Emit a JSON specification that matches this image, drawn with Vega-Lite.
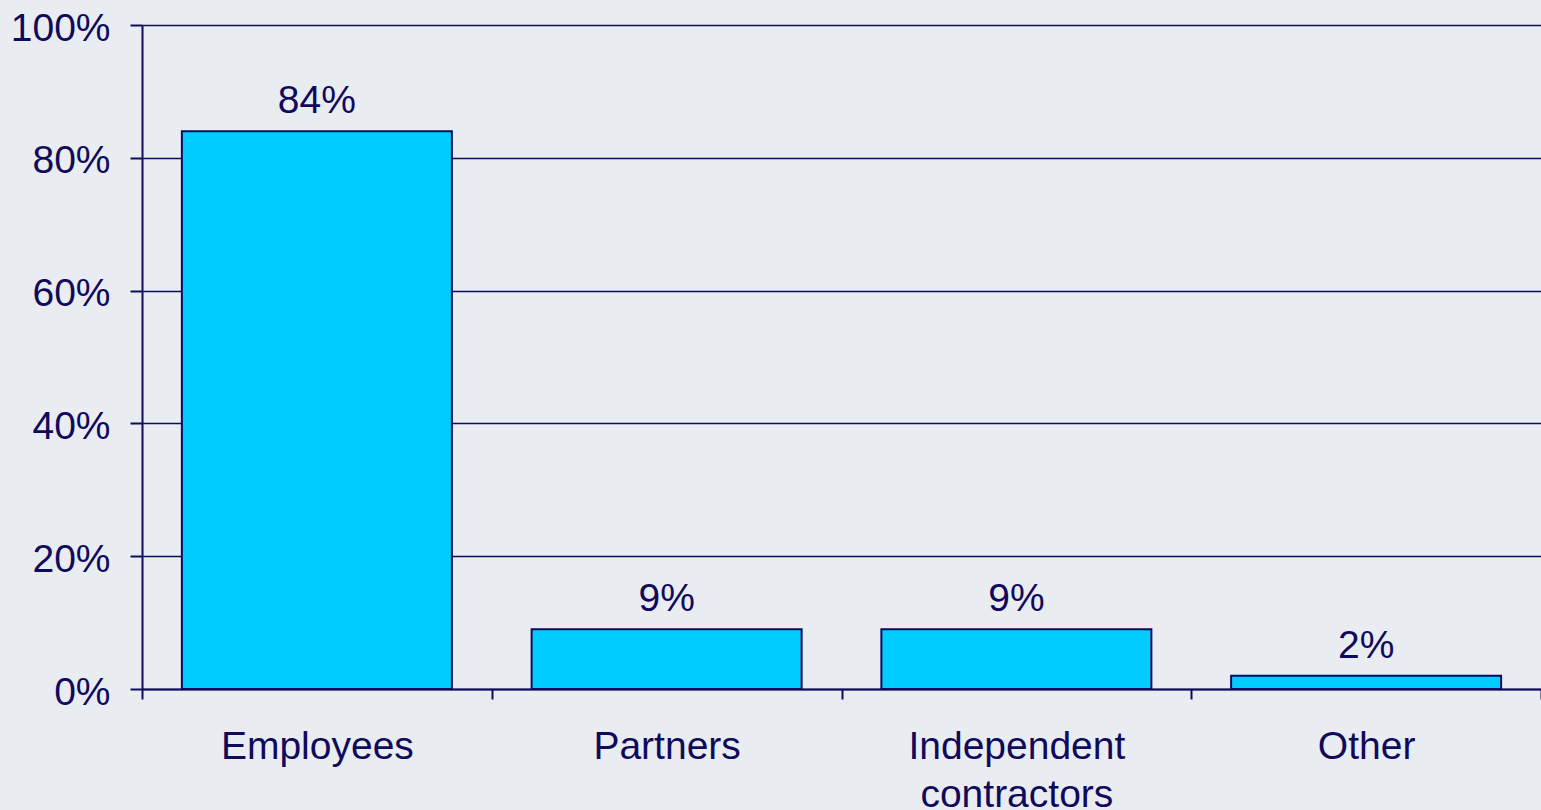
{
  "$schema": "https://vega.github.io/schema/vega-lite/v6.json",
  "width": 1399,
  "height": 664,
  "autosize": {"type": "none"},
  "padding": {"left": 142, "top": 25, "right": 0, "bottom": 121},
  "background": "#E9EDF2",
  "config": {
    "view": {"stroke": null},
    "font": "Liberation Sans"
  },
  "data": {
    "values": [
      {"category": "Employees", "share": 0.84},
      {"category": "Partners", "share": 0.09},
      {"category": "Independent contractors", "share": 0.09},
      {"category": "Other", "share": 0.02}
    ]
  },
  "encoding": {
    "x": {
      "field": "category",
      "type": "nominal",
      "sort": null,
      "scale": {"paddingInner": 0, "paddingOuter": 0},
      "axis": {
        "title": null,
        "labelAngle": 0,
        "labelFont": "Liberation Sans",
        "labelFontSize": 39,
        "labelColor": "#110A5C",
        "labelPadding": 28,
        "labelLineHeight": 48,
        "labelLimit": 600,
        "labelExpr": "split(datum.label, ' ')",
        "domainColor": "#110A5C",
        "domainWidth": 2,
        "tickColor": "#110A5C",
        "tickWidth": 2,
        "tickSize": 10,
        "tickBand": "extent",
        "grid": false
      }
    },
    "y": {
      "field": "share",
      "type": "quantitative",
      "scale": {"domain": [0, 1]},
      "axis": {
        "title": null,
        "values": [0, 0.2, 0.4, 0.6, 0.8, 1],
        "format": ".0%",
        "labelFont": "Liberation Sans",
        "labelFontSize": 39,
        "labelColor": "#110A5C",
        "labelPadding": 20,
        "labelOffset": 3,
        "domainColor": "#110A5C",
        "domainWidth": 2,
        "tickColor": "#110A5C",
        "tickWidth": 2,
        "tickSize": 12,
        "grid": true,
        "gridColor": "#110A5C",
        "gridWidth": 1.5,
        "gridOpacity": 1
      }
    }
  },
  "layer": [
    {
      "mark": {"type": "bar", "color": "#00CCFF", "stroke": "#110A5C", "strokeWidth": 2, "width": {"band": 0.772}}
    },
    {
      "mark": {"type": "text", "font": "Liberation Sans", "fontSize": 39, "color": "#110A5C", "baseline": "alphabetic", "dy": -18},
      "encoding": {
        "text": {"field": "share", "type": "quantitative", "format": ".0%"}
      }
    }
  ]
}
